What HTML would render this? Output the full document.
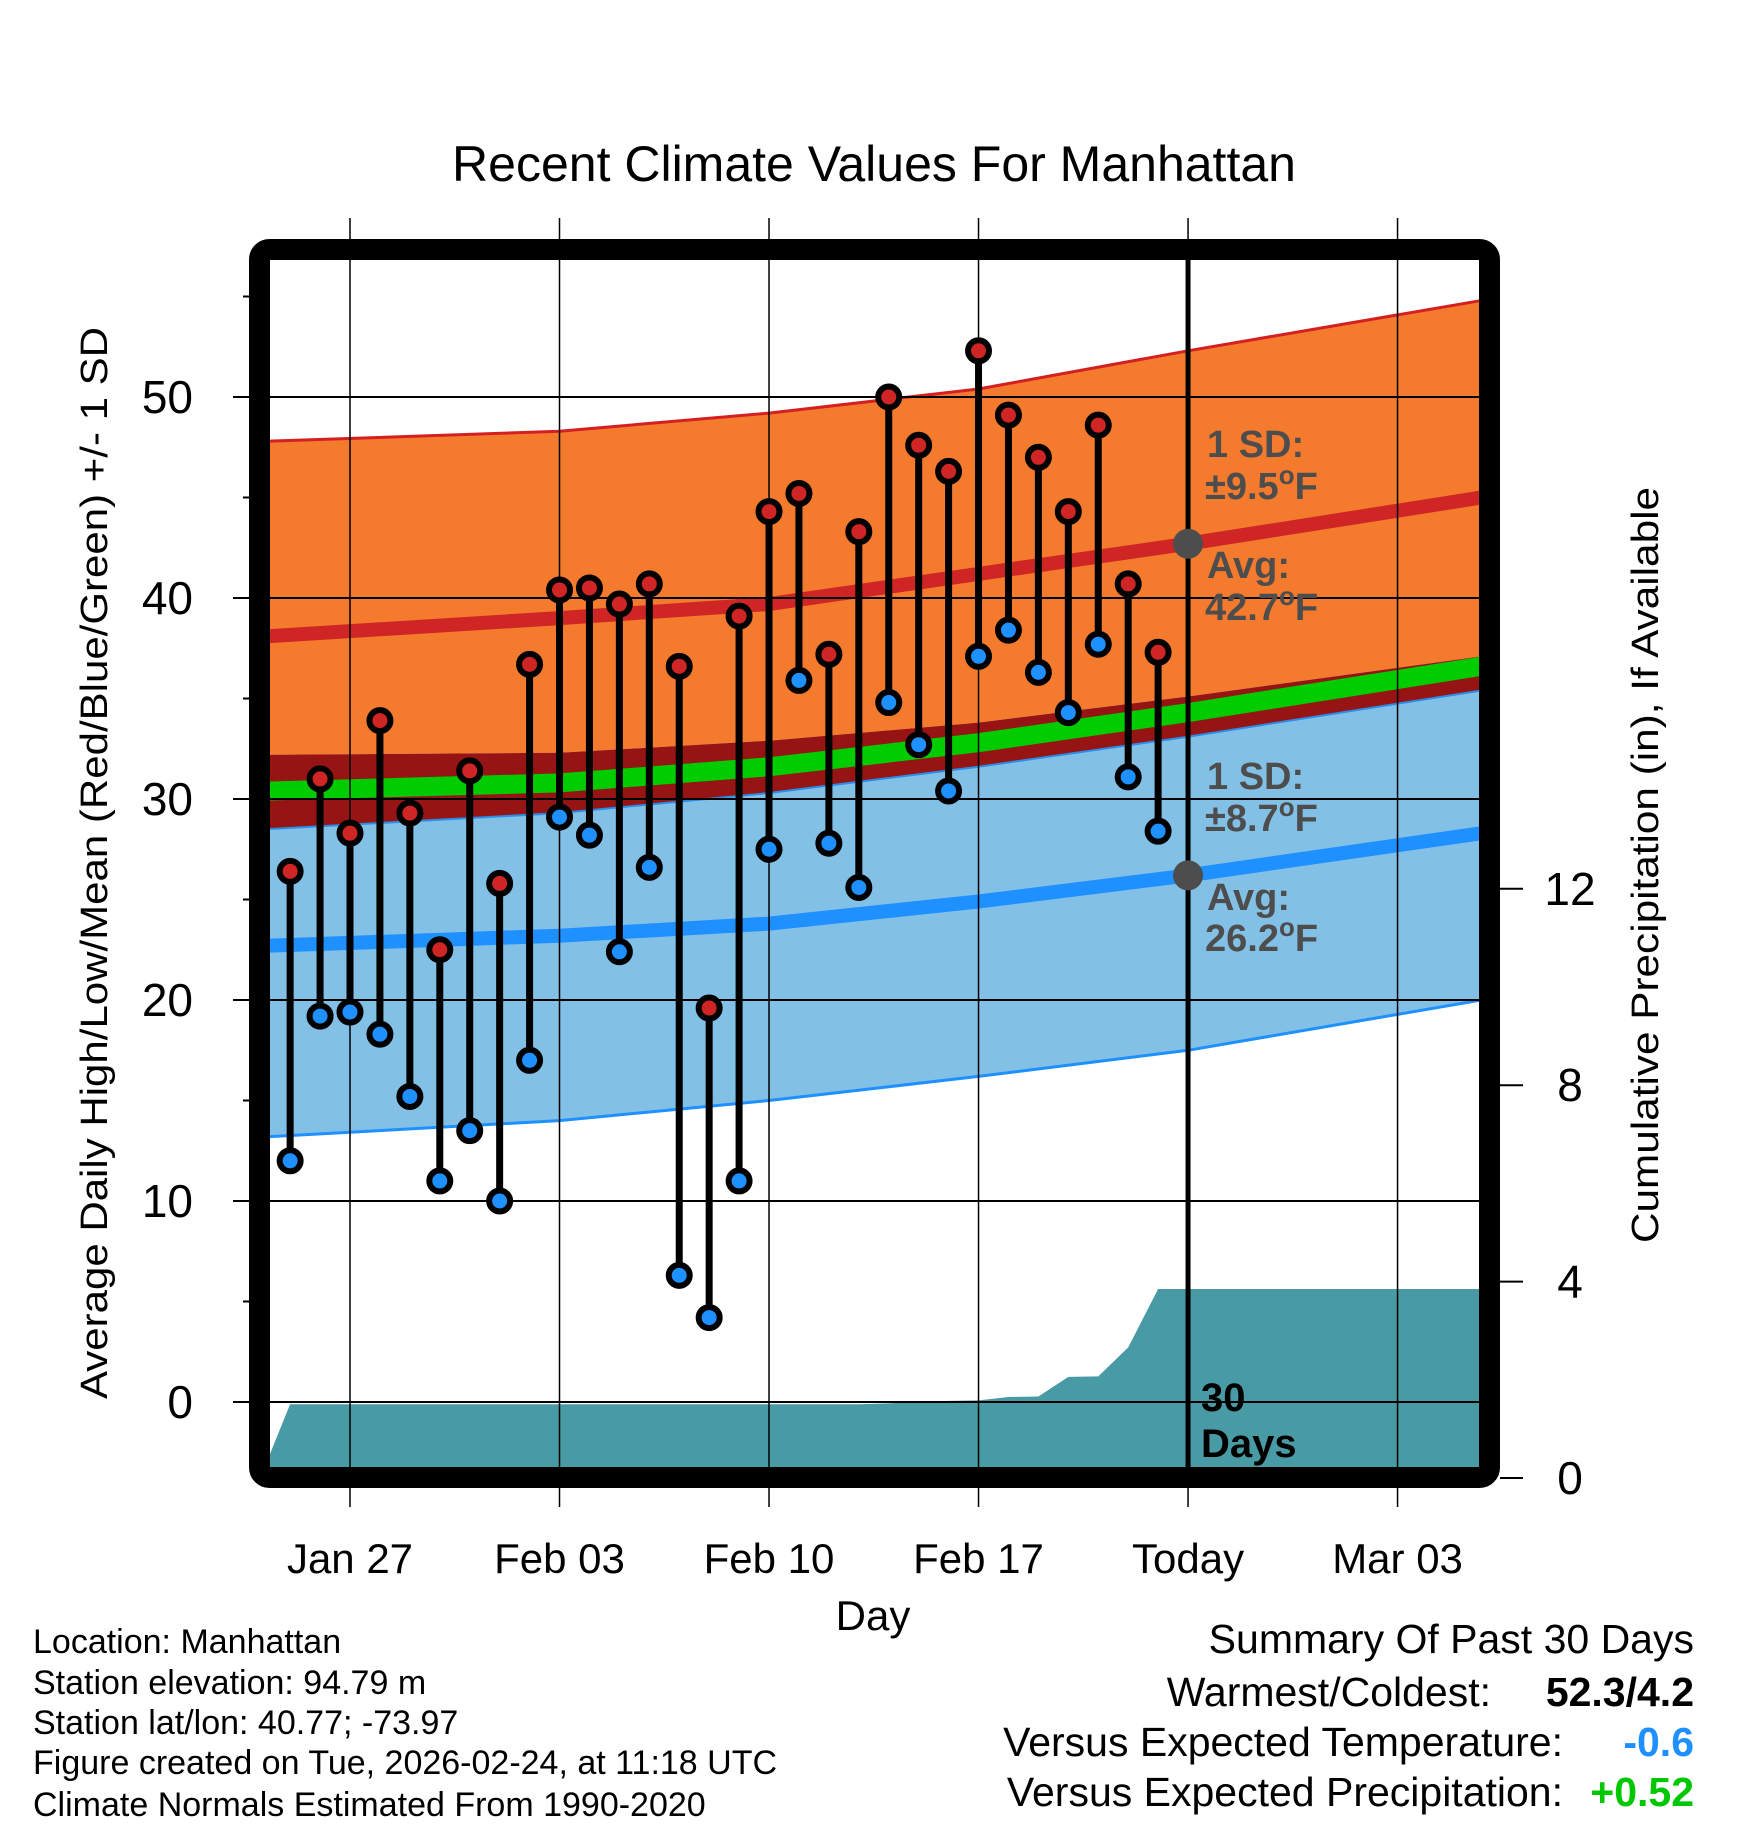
<!DOCTYPE html>
<html><head><meta charset="utf-8"><style>
html,body{margin:0;padding:0;background:#fff}
svg{display:block}
text{font-family:"Liberation Sans",sans-serif}
</style></head><body>
<svg id="chart" width="1748" height="1828" viewBox="0 0 1748 1828" xmlns="http://www.w3.org/2000/svg">
<defs><clipPath id="plotclip"><rect x="270" y="260" width="1210" height="1208"/></clipPath></defs>
<g id="bands" clip-path="url(#plotclip)"></g>
<g id="grid"></g>
<g id="marks"></g>
<g id="axes"></g>
<g id="labels"></g>
</svg>
<script>
// ---- data ----
const highDays = [-2,-1,0,1,2,3,4,5,6,7,8,9,10,11,12,13,14,15,16,17,18,19,20,21,22,23,24,25,26,27];
const highs = [26.4,31.0,28.3,33.9,29.3,22.5,31.4,25.8,36.7,40.4,40.5,39.7,40.7,36.6,19.6,39.1,44.3,45.2,37.2,43.3,50.0,47.6,46.3,52.3,49.1,47.0,44.3,48.6,40.7,37.3];
const lows = [12.0,19.2,19.4,18.3,15.2,11.0,13.5,10.0,17.0,29.1,28.2,22.4,26.6,6.3,4.2,11.0,27.5,35.9,27.8,25.6,34.8,32.7,30.4,37.1,38.4,36.3,34.3,37.7,31.1,28.4];
const precip = [1.5,1.5,1.5,1.5,1.5,1.5,1.5,1.5,1.5,1.5,1.5,1.5,1.5,1.5,1.5,1.5,1.5,1.5,1.5,1.5,1.52,1.55,1.57,1.58,1.65,1.66,2.06,2.07,2.66,3.85];
const normDays = [-2.7,7,14,21,28,37.8];
const highPlusSD = [47.8,48.3,49.2,50.4,52.3,54.8];
const highAvg = [38.1,39.0,39.7,41.2,42.7,45.0];
const highMinusSD = [32.2,32.3,32.9,33.8,35.1,37.1];
const meanAvg = [30.4,30.8,31.6,32.8,34.3,36.6];
const lowPlusSD = [28.5,29.3,30.3,31.6,33.1,35.4];
const lowAvg = [22.7,23.2,23.8,24.9,26.2,28.3];
const lowMinusSD = [13.2,14.0,15.0,16.2,17.5,20.0];
const xTickDays = [0,7,14,21,28,35];
const xTickLabels = ["Jan 27","Feb 03","Feb 10","Feb 17","Today","Mar 03"];
const yTicks = [0,10,20,30,40,50];
const pTicks = [0,4,8,12];

// ---- axes funcs ----
const X = d => 350 + d*29.93;
const Y = v => 1402 - v*20.1;
const P = p => 1478 - p*49.1;
const NS = "http://www.w3.org/2000/svg";
function mk(tag, parent, attrs){const e=document.createElementNS(NS,tag);for(const k in attrs)e.setAttribute(k,attrs[k]);parent.appendChild(e);return e;}
const bands=document.getElementById('bands'), grid=document.getElementById('grid'), marks=document.getElementById('marks'), axes=document.getElementById('axes'), labels=document.getElementById('labels');

function pts(days, vals){return days.map((d,i)=>X(d).toFixed(1)+','+Y(vals[i]).toFixed(1));}
function bandPath(top, bot){return 'M'+pts(normDays,top).join(' L')+' L'+pts(normDays,bot).reverse().join(' L')+' Z';}
function linePath(vals){return 'M'+pts(normDays,vals).join(' L');}

let e;
e=mk('path',bands,{d:bandPath(highPlusSD,highMinusSD),fill:'#f47a2e'});


e=mk('path',bands,{d:bandPath(lowPlusSD,lowMinusSD),fill:'#82c0e6'});


e=mk('path',bands,{d:bandPath(highMinusSD,lowPlusSD),fill:'#961414'});


e=mk('path',bands,{d:linePath(meanAvg),fill:'none',stroke:'#00cc00','stroke-width':19});


e=mk('path',bands,{d:linePath(highPlusSD),fill:'none',stroke:'#d42020','stroke-width':3});


e=mk('path',bands,{d:linePath(lowPlusSD),fill:'none',stroke:'#2a8ee8','stroke-width':2});


e=mk('path',bands,{d:linePath(lowMinusSD),fill:'none',stroke:'#1e90ff','stroke-width':3});


e=mk('path',bands,{d:linePath(highAvg),fill:'none',stroke:'#d02525','stroke-width':14});


e=mk('path',bands,{d:linePath(lowAvg),fill:'none',stroke:'#1e90ff','stroke-width':14});



// precipitation area
let pd='M'+X(-3)+','+P(0);
highDays.forEach((d,i)=>{pd+=' L'+X(d).toFixed(1)+','+P(precip[i]).toFixed(1);});
pd+=' L'+X(40)+','+P(precip[precip.length-1]).toFixed(1)+' L'+X(40)+','+P(0)+' Z';
e=mk('path',bands,{d:pd,fill:'#489ba5'});



// gridlines
yTicks.forEach(v=>{
  const g=mk('line',grid,{x1:233,x2:1480,y1:Y(v),y2:Y(v),stroke:'#000','stroke-width':2});
  
  
  const t=mk('text',labels,{x:193,y:Y(v)+16,'text-anchor':'end','font-size':46});
  t.textContent=v;
  
  
});
[5,15,25,35,45,55].forEach(v=>{
  const g=mk('line',axes,{x1:243,x2:252,y1:Y(v),y2:Y(v),stroke:'#000','stroke-width':2});
  
  
});
xTickDays.forEach((d,i)=>{
  const isToday = xTickLabels[i]==='Today';
  const g=mk('line',grid,{x1:X(d),x2:X(d),y1:isToday?260:218,y2:isToday?1468:1507,stroke:'#000','stroke-width':isToday?5:1.5});
  
  
  if(isToday){const g2=mk('line',grid,{x1:X(d),x2:X(d),y1:218,y2:1507,stroke:'#000','stroke-width':1.5});
    
    }
  const t=mk('text',labels,{x:X(d),y:1573,'text-anchor':'middle','font-size':42});
  t.textContent=xTickLabels[i];
  
  
});
pTicks.forEach(p=>{
  const g=mk('line',axes,{x1:1500,x2:1523,y1:P(p),y2:P(p),stroke:'#000','stroke-width':2});
  
  
  const t=mk('text',labels,{x:1570,y:P(p)+16,'text-anchor':'middle','font-size':46});
  t.textContent=p;
  
  
});

// high/low sticks and dots
highDays.forEach((d,i)=>{
  const x=X(d);
  const s=mk('line',marks,{x1:x,x2:x,y1:Y(highs[i]),y2:Y(lows[i]),stroke:'#000','stroke-width':7});
  
  
  const h=mk('circle',marks,{cx:x,cy:Y(highs[i]),r:10.5,fill:'#d02525',stroke:'#000','stroke-width':6});
  
  
  const l=mk('circle',marks,{cx:x,cy:Y(lows[i]),r:10.5,fill:'#1e90ff',stroke:'#000','stroke-width':6});
  
  
});
// today avg dots
[highAvg[4],lowAvg[4]].forEach(v=>{
  const c=mk('circle',marks,{cx:X(28),cy:Y(v),r:15,fill:'#4d4d4d'});
  
  
});
</script>
<svg style="position:absolute;left:0;top:0" width="1748" height="1828" viewBox="0 0 1748 1828" xmlns="http://www.w3.org/2000/svg">
<rect x="259.5" y="249.5" width="1230" height="1228" rx="10" fill="none" stroke="#000" stroke-width="21"/>
<text x="874" y="181" text-anchor="middle" font-size="50">Recent Climate Values For Manhattan</text>
<text transform="translate(107,863) rotate(-90)" text-anchor="middle" font-size="38" textLength="1072" lengthAdjust="spacingAndGlyphs">Average Daily High/Low/Mean (Red/Blue/Green) +/- 1 SD</text>
<text transform="translate(1658,865) rotate(-90)" text-anchor="middle" font-size="38" textLength="756" lengthAdjust="spacingAndGlyphs">Cumulative Precipitation (in), If Available</text>
<text x="873" y="1630" text-anchor="middle" font-size="42">Day</text>
<g fill="#4d4d4d" font-weight="bold" font-size="38">
<text x="1207" y="457">1 SD:</text>
<text x="1205" y="499">±9.5<tspan dy="-15" font-size="26">o</tspan><tspan dy="15">F</tspan></text>
<text x="1207" y="578">Avg:</text>
<text x="1205" y="620">42.7<tspan dy="-15" font-size="26">o</tspan><tspan dy="15">F</tspan></text>
</g>
<g fill="#4d4d4d" font-weight="bold" font-size="38">
<text x="1207" y="789">1 SD:</text>
<text x="1205" y="831">±8.7<tspan dy="-15" font-size="26">o</tspan><tspan dy="15">F</tspan></text>
<text x="1207" y="910">Avg:</text>
<text x="1205" y="951">26.2<tspan dy="-15" font-size="26">o</tspan><tspan dy="15">F</tspan></text>
</g>
<g font-weight="bold" font-size="40" fill="#000">
<text x="1201" y="1411">30</text>
<text x="1201" y="1457">Days</text>
</g>
<g font-size="34" fill="#000">
<text x="33" y="1653">Location: Manhattan</text>
<text x="33" y="1694">Station elevation: 94.79 m</text>
<text x="33" y="1734">Station lat/lon: 40.77; -73.97</text>
<text x="33" y="1774">Figure created on Tue, 2026-02-24, at 11:18 UTC</text>
<text x="33" y="1816">Climate Normals Estimated From 1990-2020</text>
</g>
<g font-size="41" fill="#000" text-anchor="end">
<text x="1694" y="1653">Summary Of Past 30 Days</text>
<text x="1491" y="1706">Warmest/Coldest:</text>
<text x="1694" y="1706" font-weight="bold">52.3/4.2</text>
<text x="1563" y="1756">Versus Expected Temperature:</text>
<text x="1694" y="1756" font-weight="bold" fill="#1e90ff">-0.6</text>
<text x="1563" y="1806">Versus Expected Precipitation:</text>
<text x="1694" y="1806" font-weight="bold" fill="#00c800">+0.52</text>
</g>
</svg>
</body></html>
